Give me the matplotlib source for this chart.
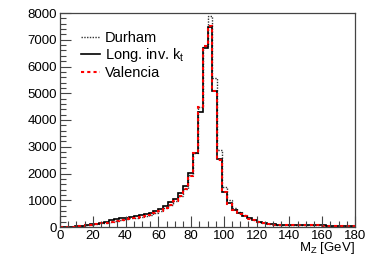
import numpy as np
import matplotlib
matplotlib.use("Agg")
import matplotlib.pyplot as plt
from matplotlib.ticker import MultipleLocator

plt.rcParams['font.family'] = ['Liberation Sans', 'DejaVu Sans']
plt.rcParams['mathtext.fontset'] = 'custom'
plt.rcParams['mathtext.rm'] = 'Liberation Sans'
plt.rcParams['mathtext.it'] = 'Liberation Sans:italic'

# 3 GeV bins from 0 to 180
bin_edges = np.arange(0, 183, 3)

durham = [0, 3, 10, 22, 40, 60, 80, 105, 135, 165,
          200, 235, 265, 290, 320, 350, 380, 420, 460, 510,
          580, 700, 830, 960, 1170, 1420, 1950, 2780, 4500, 6780,
          7890, 5585, 2880, 1510, 1010, 700, 560, 430, 340, 270,
          190, 140, 112, 95, 85, 80, 75, 72, 70, 68,
          65, 62, 60, 58, 56, 54, 52, 50, 48, 46]

long_kt = [0, 5, 15, 30, 50, 75, 100, 130, 165, 200,
           245, 285, 320, 350, 380, 410, 440, 490, 530, 580,
           660, 785, 920, 1060, 1285, 1530, 2010, 2780, 4300, 6700,
           7480, 5090, 2530, 1320, 885, 636, 510, 411, 324, 262,
           187, 137, 110, 95, 85, 80, 75, 72, 70, 68,
           65, 62, 60, 58, 56, 54, 52, 50, 48, 46]

valencia = [0, 3, 10, 22, 40, 60, 80, 105, 135, 165,
            200, 235, 265, 290, 320, 350, 380, 420, 460, 510,
            580, 700, 830, 960, 1170, 1420, 1900, 2750, 4500, 6780,
            7500, 5090, 2500, 1310, 870, 620, 490, 400, 315, 255,
            180, 135, 105, 92, 82, 78, 73, 70, 68, 66,
            63, 60, 58, 56, 54, 52, 50, 48, 46, 44]

fig = plt.figure(figsize=(3.74, 2.70), dpi=100)
ax = fig.add_axes([60 / 374, 1 - 227 / 270, 295 / 374, 214 / 270])

ax.stairs(durham, bin_edges, color='#333333', lw=1.0, ls=(0, (1, 1)), label='Durham')
ax.stairs(long_kt, bin_edges, color='black', lw=1.2, ls='-', label=r'Long. inv. k$_\mathrm{t}$')
ax.stairs(valencia, bin_edges, color='red', lw=1.5, ls=(0, (1.5, 1.5)), label='Valencia')

ax.set_xlim(0, 180)
ax.set_ylim(0, 8000)
ax.xaxis.set_major_locator(MultipleLocator(20))
ax.xaxis.set_minor_locator(MultipleLocator(5))
ax.yaxis.set_major_locator(MultipleLocator(1000))
ax.yaxis.set_minor_locator(MultipleLocator(200))
ax.tick_params(which='both', direction='in', top=False, right=False,
               labelsize=9.5, color='#444444', pad=2)
ax.tick_params(which='major', length=8, width=0.8)
ax.tick_params(which='minor', length=4, width=0.8)
for sp in ax.spines.values():
    sp.set_color('#444444')
    sp.set_linewidth(0.9)

ax.set_xlabel(r'M$_\mathrm{Z}$ [GeV]', fontsize=9.5)
ax.xaxis.set_label_coords(1.0, -0.062)
ax.xaxis.label.set_horizontalalignment('right')

ax.legend(loc='upper left', bbox_to_anchor=(0.05, 0.943), frameon=False,
          fontsize=10.5, handlelength=1.3, handletextpad=0.35,
          labelspacing=0.1, borderaxespad=0)

fig.savefig('out.png', dpi=100)
